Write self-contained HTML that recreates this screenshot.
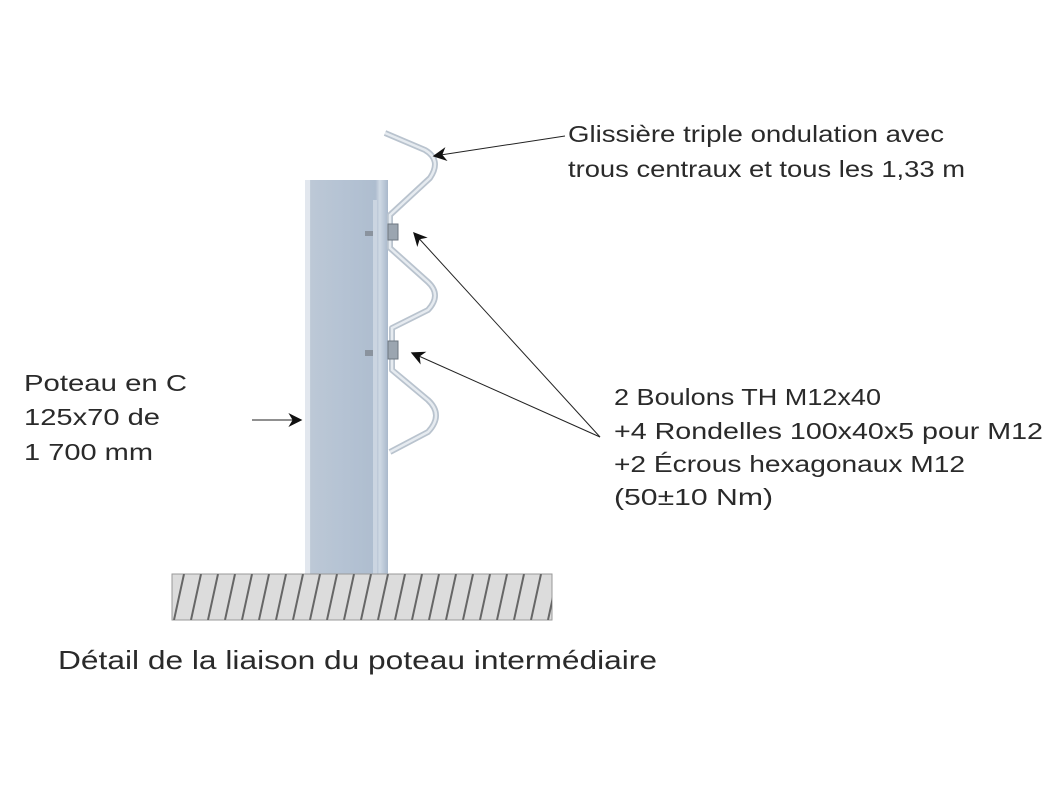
<!DOCTYPE html>
<html><head><meta charset="utf-8"><style>
body{margin:0;background:#fff;}
svg text{font-family:"Liberation Sans",sans-serif;fill:#2a2a2a;}
</style></head><body>
<svg width="1059" height="786" xmlns="http://www.w3.org/2000/svg">
<defs>
<linearGradient id="pg" x1="0" x2="1">
<stop offset="0" stop-color="#d6dde6"/><stop offset="0.08" stop-color="#bcc8d6"/>
<stop offset="0.5" stop-color="#b4c2d3"/><stop offset="0.85" stop-color="#aebdcf"/>
<stop offset="0.9" stop-color="#cfd9e4"/><stop offset="1" stop-color="#a9b8cb"/>
</linearGradient>
<marker id="ah" viewBox="0 0 10 10" refX="9" refY="5" markerWidth="16" markerHeight="14" orient="auto-start-reverse" markerUnits="userSpaceOnUse">
<path d="M0,0 L10,5 L0,10 L3,5 z" fill="#111"/></marker>
<pattern id="hatch" width="17" height="46" patternUnits="userSpaceOnUse" x="172" y="574">
<line x1="12" y1="0" x2="2" y2="46" stroke="#666" stroke-width="2"/>
</pattern>
</defs>
<rect x="305" y="180" width="83" height="395" fill="url(#pg)"/>
<rect x="305" y="180" width="5" height="395" fill="#e2e7ee"/>
<rect x="373" y="200" width="4" height="375" fill="#cbd5e1"/>
<rect x="365" y="231" width="8" height="5" fill="#8a939e"/>
<rect x="365" y="350" width="8" height="6" fill="#8a939e"/>
<rect x="172" y="574" width="380" height="46" fill="#dcdcdc" stroke="#999" stroke-width="1"/>
<rect x="172" y="574" width="380" height="46" fill="url(#hatch)"/>
<path d="M385,133 L425,150 Q442,160 430,178 L390,215 L390,248 L428,282 Q442,295 428,310 L392,328 L392,370 L428,400 Q444,415 428,432 L390,452" fill="none" stroke="#b9c3ce" stroke-width="6" stroke-linejoin="round"/>
<path d="M385,133 L425,150 Q442,160 430,178 L390,215 L390,248 L428,282 Q442,295 428,310 L392,328 L392,370 L428,400 Q444,415 428,432 L390,452" fill="none" stroke="#e6ebf0" stroke-width="2.5"/>
<rect x="388" y="224" width="10" height="16" fill="#9ba5b0" stroke="#6d7680"/>
<rect x="388" y="341" width="10" height="18" fill="#9ba5b0" stroke="#6d7680"/>
<line x1="565" y1="136" x2="434" y2="156" stroke="#222" stroke-width="1" marker-end="url(#ah)"/>
<line x1="600" y1="437" x2="414" y2="233" stroke="#222" stroke-width="1" marker-end="url(#ah)"/>
<line x1="600" y1="437" x2="412" y2="353" stroke="#222" stroke-width="1" marker-end="url(#ah)"/>
<line x1="252" y1="420" x2="301" y2="420" stroke="#222" stroke-width="1" marker-end="url(#ah)"/>
<text x="568" y="142" font-size="23" textLength="376" lengthAdjust="spacingAndGlyphs">Glissière triple ondulation avec</text>
<text x="568" y="177" font-size="23" textLength="397" lengthAdjust="spacingAndGlyphs">trous centraux et tous les 1,33 m</text>
<text x="24" y="391" font-size="23" textLength="163" lengthAdjust="spacingAndGlyphs">Poteau en C</text>
<text x="24" y="425" font-size="23" textLength="136" lengthAdjust="spacingAndGlyphs">125x70 de</text>
<text x="24" y="460" font-size="23" textLength="129" lengthAdjust="spacingAndGlyphs">1 700 mm</text>
<text x="614" y="405" font-size="23" textLength="267" lengthAdjust="spacingAndGlyphs">2 Boulons TH M12x40</text>
<text x="614" y="439" font-size="23" textLength="429" lengthAdjust="spacingAndGlyphs">+4 Rondelles 100x40x5 pour M12</text>
<text x="614" y="472" font-size="23" textLength="351" lengthAdjust="spacingAndGlyphs">+2 Écrous hexagonaux M12</text>
<text x="614" y="505" font-size="23" textLength="159" lengthAdjust="spacingAndGlyphs">(50±10 Nm)</text>
<text x="58" y="669" font-size="26" textLength="599" lengthAdjust="spacingAndGlyphs">Détail de la liaison du poteau intermédiaire</text>
</svg>
</body></html>
